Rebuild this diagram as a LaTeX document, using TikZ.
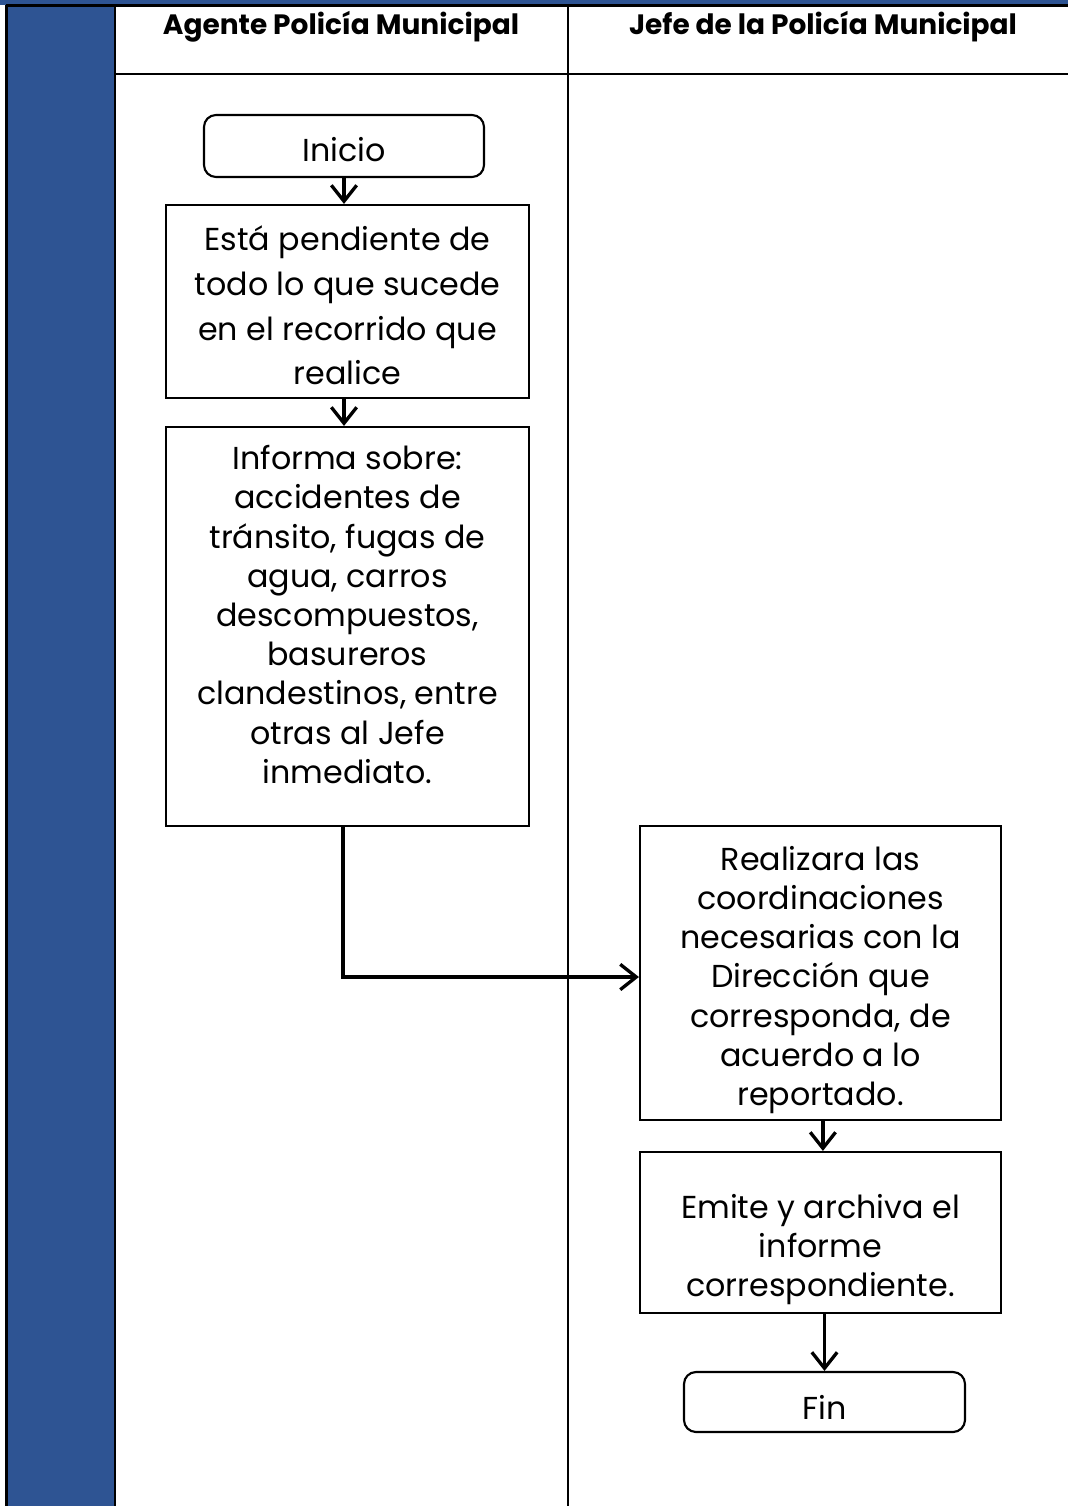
\documentclass[tikz,border=0pt]{standalone}
\usepackage{fontspec}
\setmainfont{Poppins}
\usetikzlibrary{arrows.meta}
\definecolor{band}{RGB}{46,84,147}
\begin{document}
\begin{tikzpicture}[x=0.75pt,y=-0.75pt,
  grid/.style={line width=1.6pt, black},
  box/.style={draw, line width=1.6pt, inner sep=0pt},
  rbox/.style={box, rounded corners=9pt},
  txt/.style={align=center, inner sep=0pt, font=\fontsize{23.8}{29.4}\selectfont},
  head/.style={font=\fontsize{21}{25}\selectfont\bfseries, anchor=base, inner sep=0pt},
  arr/.style={line width=2.5pt, -{Straight Barb[length=12pt,width=19pt,line width=2.5pt]}}]
\useasboundingbox (0,0) rectangle (1068,1506);
% background bands
\fill[band] (0,0) rectangle (1068,5);
\fill[band] (6,5) rectangle (115,1506);
% table lines
\draw[grid] (6,5.5) -- (1068,5.5);
\draw[grid] (6.5,5) -- (6.5,1506);
\draw[grid] (115,5) -- (115,1506);
\draw[grid] (568,5) -- (568,1506);
\draw[grid] (115,74) -- (1068,74);
% headers
\node[head] (h1) at (341,34) {Agente Policía Municipal};
\node[head] (h2) at (823,34) {Jefe de la Policía Municipal};
% boxes
\node[rbox, minimum width=210pt, minimum height=46.5pt,
  label={[txt, yshift=-3pt]center:Inicio}] (ini) at (344,146) {};
\node[box, minimum width=272.25pt, minimum height=144.75pt,
  label={[txt, font=\fontsize{23.8}{33.5}\selectfont, yshift=-3pt]center:{Está pendiente de\\todo lo que sucede\\en el recorrido que\\realice}}] (b2) at (347.5,301.5) {};
\node[box, minimum width=272.25pt, minimum height=299.25pt,
  label={[txt, yshift=9pt]center:{Informa sobre:\\accidentes de\\tránsito, fugas de\\agua, carros\\descompuestos,\\basureros\\clandestinos, entre\\otras al Jefe\\inmediato.}}] (b3) at (347.5,626.5) {};
\node[box, minimum width=270.75pt, minimum height=220.5pt,
  label={[txt, yshift=-5.25pt]center:{Realizara las\\coordinaciones\\necesarias con la\\Dirección que\\corresponda, de\\acuerdo a lo\\reportado.}}] (b4) at (820.5,973) {};
\node[box, minimum width=270.75pt, minimum height=120.75pt,
  label={[txt, yshift=-12.75pt]center:{Emite y archiva el\\informe\\correspondiente.}}] (b5) at (820.5,1232.5) {};
\node[rbox, minimum width=210.75pt, minimum height=45pt,
  label={[txt, yshift=-3.75pt]center:Fin}] (fin) at (824.5,1402) {};
% connectors
\draw[arr] (ini) -- (ini |- b2.north);
\draw[arr] (b2.south -| ini) -- (ini |- b3.north);
\draw[arr] ([xshift=-3.4pt]b3.south) |- ([yshift=-3pt]b4.west);
\draw[arr] ([xshift=1.8pt]b4.south) -- ([xshift=1.8pt]b5.north);
\draw[arr] (b5.south -| fin) -- (fin);
\end{tikzpicture}
\end{document}
